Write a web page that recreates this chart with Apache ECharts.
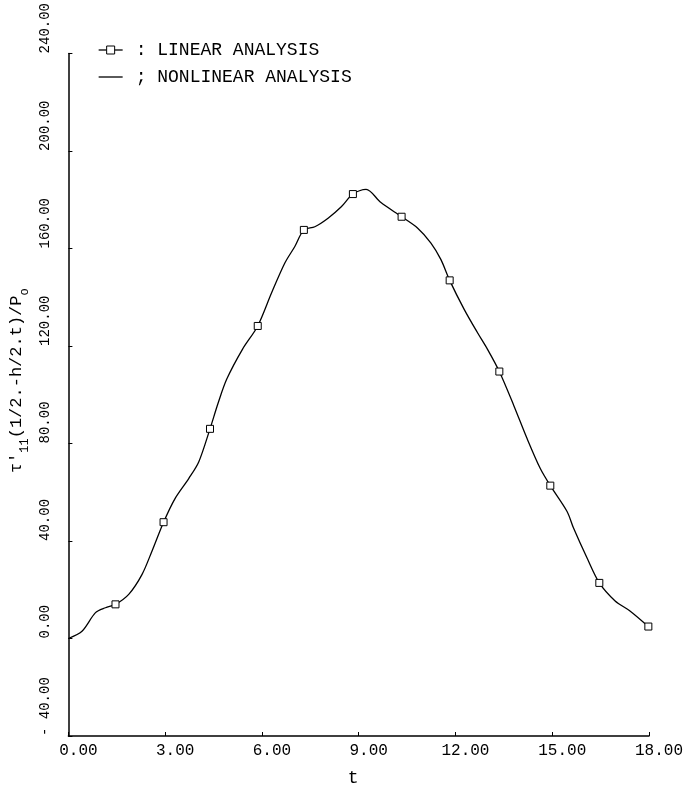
<!DOCTYPE html>
<html>
<head>
<meta charset="utf-8">
<script src="https://cdn.jsdelivr.net/npm/echarts@6/dist/echarts.min.js"></script>
<style>
  html, body { margin: 0; padding: 0; background: #fff; }
  #chart { width: 688px; height: 792px; }
</style>
</head>
<body>
<div id="chart"></div>
<script>
// ---- data ----
const seriesNames = ['LINEAR ANALYSIS', 'NONLINEAR ANALYSIS'];
const legendLabels = [': LINEAR ANALYSIS', '; NONLINEAR ANALYSIS'];

// linear analysis (square markers)
const linearT = [1.46, 2.95, 4.39, 5.87, 7.30, 8.82, 10.33, 11.82, 13.36, 14.94, 16.46, 17.98];
const linearV = [14.0, 47.7, 86.0, 128.2, 167.6, 182.3, 173.0, 146.9, 109.5, 62.7, 22.8, 4.9];

// nonlinear analysis (solid curve)
const nonlinearT = [0, 0.43, 0.84, 1.15, 1.46, 1.87, 2.28, 2.59, 2.95, 3.31, 3.73, 4.04, 4.39, 4.65, 4.91,
  5.40, 5.87, 6.30, 6.71, 7.02, 7.30, 7.64, 8.05, 8.46, 8.82, 9.23, 9.69, 10.33, 10.83, 11.24, 11.55,
  11.82, 12.27, 12.68, 12.99, 13.36, 13.81, 14.22, 14.63, 14.94, 15.46, 15.66, 16.08, 16.46, 16.95, 17.41, 17.98];
const nonlinearV = [0, 3.1, 10.6, 12.6, 14.0, 18.1, 26.2, 35.8, 47.7, 57.5, 65.6, 72.4, 86.0, 96.9, 106.4,
  118.7, 128.2, 141.8, 154.0, 160.8, 167.6, 168.9, 172.4, 177.1, 182.3, 184.2, 178.8, 173.0, 168.3, 162.2, 155.4,
  146.9, 135.0, 125.5, 118.7, 109.5, 95.5, 82.0, 69.7, 62.7, 52.1, 45.3, 33.0, 22.8, 15.4, 11.3, 4.9];

// axis ticks
const xTickValues = [0, 3, 6, 9, 12, 15, 18];
const xTickLabels = ['0.00', '3.00', '6.00', '9.00', '12.00', '15.00', '18.00'];
const yTickValues = [-40, 0, 40, 80, 120, 160, 200, 240];
const yTickLabels = ['- 40.00', '0.00', '40.00', '80.00', '120.00', '160.00', '200.00', '240.00'];

const xName = 't';
const yName = "{m|τ'}{s|11}{m|(1/2.-h/2.t)/P}{s|o}";

// ---- chart ----
const FONT = 'Liberation Mono';
const linearData = linearT.map((t, i) => [t, linearV[i]]);
const nonlinearData = nonlinearT.map((t, i) => [t, nonlinearV[i]]);

function lookup(values, labels, v) {
  const i = values.findIndex(x => Math.abs(x - v) < 1e-9);
  return i >= 0 ? labels[i] : '';
}

const chart = echarts.init(document.getElementById('chart'), null, { renderer: 'canvas' });
chart.setOption({
  animation: false,
  backgroundColor: '#fff',
  grid: { left: 66, right: 39, top: 53, bottom: 52, containLabel: false },
  legend: {
    orient: 'vertical',
    left: 93,
    top: 36,
    itemWidth: 24,
    itemHeight: 10,
    itemGap: 9,
    selectedMode: false,
    symbolKeepAspect: true,
    formatter: name => legendLabels[seriesNames.indexOf(name)],
    textStyle: { fontFamily: FONT, fontSize: 18, color: '#000', lineHeight: 18, padding: [0, 0, 0, 8] },
    data: [
      {
        name: seriesNames[0],
        itemStyle: { borderWidth: 1, borderColor: '#000', color: '#fff' },
        lineStyle: { opacity: 1, width: 1.3, color: '#000' }
      },
      {
        name: seriesNames[1],
        icon: 'path://M0,0L240,0L240,13L0,13Z',
        itemStyle: { color: '#000', borderWidth: 0 }
      }
    ]
  },
  xAxis: {
    type: 'value',
    min: 0, max: 18, interval: 3,
    name: xName,
    nameLocation: 'middle',
    nameGap: 33,
    nameTextStyle: { fontFamily: FONT, fontSize: 18, color: '#000', padding: [0, 11, 0, 0] },
    axisLine: { show: true, onZero: false, lineStyle: { color: '#000', width: 1.5 } },
    axisTick: { show: true, inside: true, length: 4, lineStyle: { color: '#000', width: 1 } },
    splitLine: { show: false },
    axisLabel: {
      fontFamily: FONT, fontSize: 16, color: '#000', margin: 7,
      padding: [0, 0, 0, 20],
      formatter: v => lookup(xTickValues, xTickLabels, v)
    }
  },
  yAxis: {
    type: 'value',
    min: -40, max: 240, interval: 40,
    name: yName,
    nameLocation: 'middle',
    nameGap: 28,
    nameRotate: 90,
    nameTextStyle: {
      fontFamily: FONT, color: '#000', padding: [0, 0, 0, 28],
      rich: {
        m: { fontFamily: FONT, fontSize: 17, color: '#000', lineHeight: 20 },
        s: { fontFamily: FONT, fontSize: 12, color: '#000', lineHeight: 20, verticalAlign: 'bottom', padding: [0, 0, -4, 0] }
      }
    },
    axisLine: { show: true, onZero: false, lineStyle: { color: '#000', width: 1.5 } },
    axisTick: { show: true, inside: true, length: 4, lineStyle: { color: '#000', width: 1 } },
    splitLine: { show: false },
    axisLabel: {
      fontFamily: FONT, fontSize: 14, color: '#000', margin: 16,
      rotate: 90, align: 'left', verticalAlign: 'bottom',
      formatter: v => lookup(yTickValues, yTickLabels, v)
    }
  },
  series: [
    {
      name: seriesNames[0],
      type: 'line',
      data: linearData,
      symbol: 'rect',
      symbolSize: 7,
      showSymbol: true,
      itemStyle: { color: '#fff', borderColor: '#000', borderWidth: 1 },
      lineStyle: { color: '#000', width: 1.3, opacity: 0 },
      z: 3
    },
    {
      name: seriesNames[1],
      type: 'line',
      data: nonlinearData,
      smooth: 0.3,
      symbol: 'none',
      showSymbol: false,
      itemStyle: { color: '#000' },
      lineStyle: { color: '#000', width: 1.3 },
      z: 2
    }
  ]
});
</script>
</body>
</html>
